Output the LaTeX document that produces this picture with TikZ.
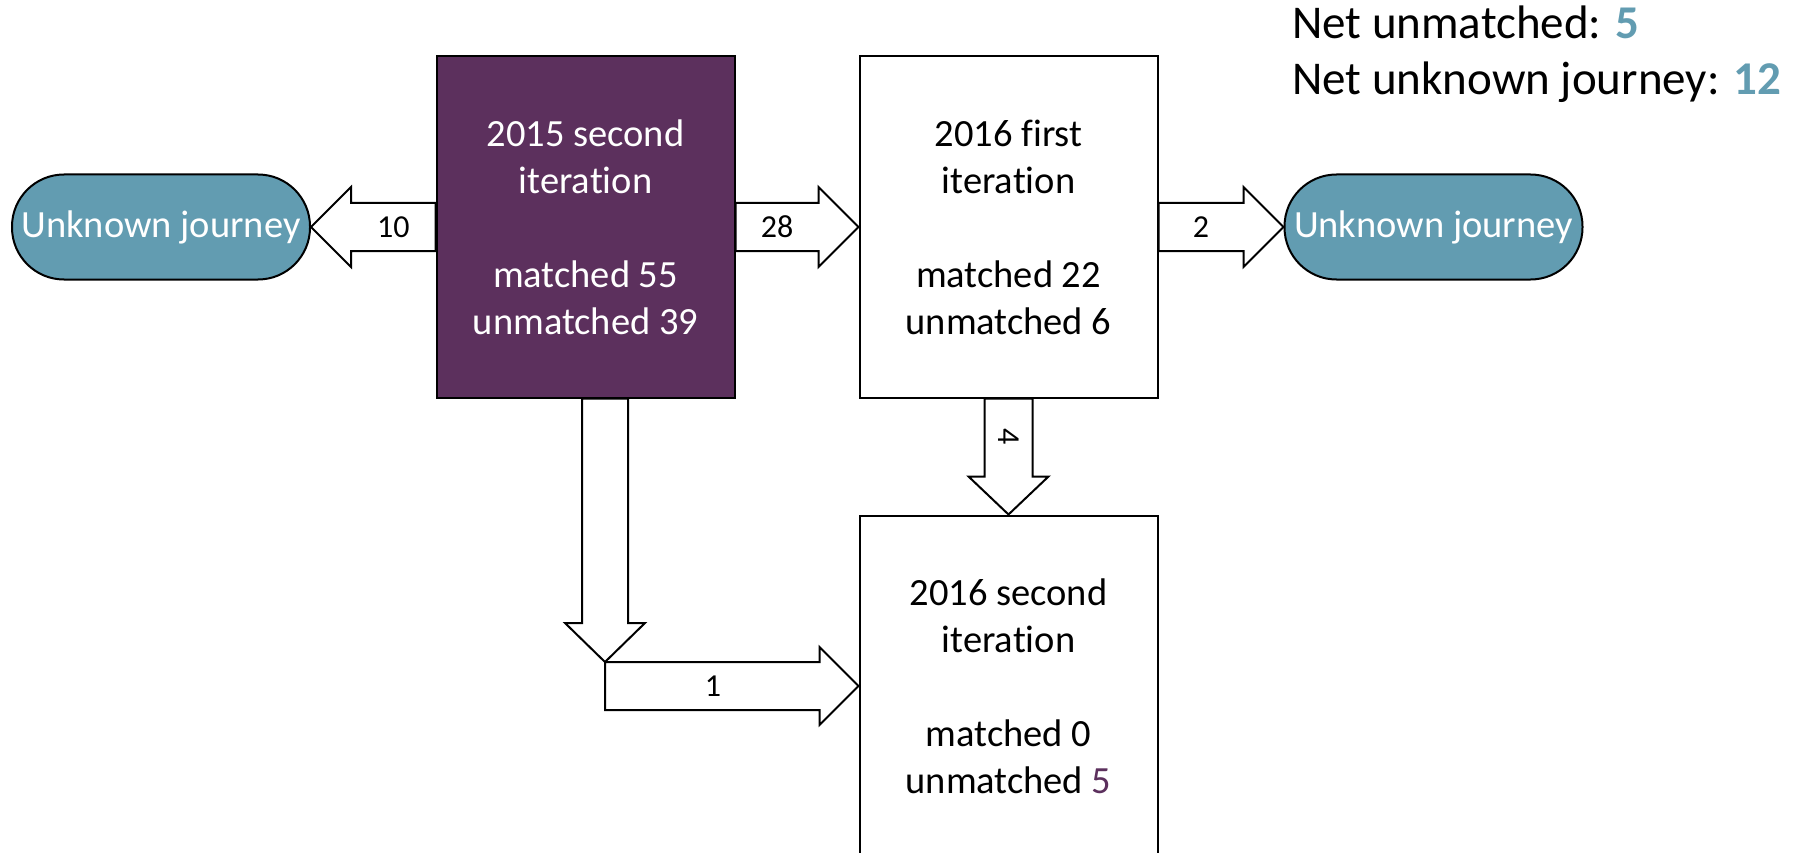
\documentclass[tikz,border=0pt]{standalone}
\usepackage{fontspec}
\setmainfont{Carlito}[Ligatures={NoCommon,NoRare,NoContextual}]
\usetikzlibrary{calc}
\definecolor{teal1}{HTML}{629CB1}
\definecolor{purp}{HTML}{5C305D}
\begin{document}
\begin{tikzpicture}[x=1pt,y=-1pt,
  box/.style={draw=black,line width=2pt,minimum width=298pt,minimum height=341pt,inner sep=0pt,align=center,font=\fontsize{38.5}{47}\selectfont},
  pill/.style={draw=black,line width=2pt,fill=teal1,rounded corners=52pt,minimum width=298pt,minimum height=105pt,inner sep=0pt,text=white,font=\fontsize{38.5}{47}\selectfont},
  barrow/.style={draw=black,fill=white,line width=2pt,line join=miter},
  num/.style={font=\fontsize{32}{38}\selectfont,inner sep=0pt}]
\useasboundingbox (0,0) rectangle (1793,853);
\node[box,fill=purp,text=white] (p) at (585.5,227) {2015 second\\iteration\\[47pt]matched 55\\unmatched 39};
\node[box,fill=white] (f) at (1008.5,227) {2016 first\\iteration\\[47pt]matched 22\\unmatched 6};
\node[box,fill=white] (s) at (1008.5,686) {2016 second\\iteration\\[47pt]matched 0\\unmatched \textcolor{purp}{5}};
\node[pill] (uj1) at (161,227) {Unknown journey};
\node[pill] (uj2) at (1433.5,227) {Unknown journey};
% arrow 10
\filldraw[barrow] (uj1.east) -- ++(40,-40) -- ++(0,16) -- ($(p.west)+(0,-24)$) -- ($(p.west)+(0,24)$) -- ($(uj1.east)+(40,24)$) -- ++(0,16) -- cycle;
\node[num] (l10) at ($(uj1.east)!0.5!(p.west)+(20,0)$) {10};
% arrow 28
\filldraw[barrow] (f.west) -- ++(-40,-40) -- ++(0,16) -- ($(p.east)+(0,-24)$) -- ($(p.east)+(0,24)$) -- ($(f.west)+(-40,24)$) -- ++(0,16) -- cycle;
\node[num] (l28) at ($(p.east)!0.5!(f.west)+(-20,0)$) {28};
% arrow 2
\filldraw[barrow] (uj2.west) -- ++(-40,-40) -- ++(0,16) -- ($(f.east)+(0,-24)$) -- ($(f.east)+(0,24)$) -- ($(uj2.west)+(-40,24)$) -- ++(0,16) -- cycle;
\node[num] (l2) at ($(f.east)!0.5!(uj2.west)+(-20,0)$) {2};
% arrow 4
\filldraw[barrow] (s.north) -- ++(-40,-38) -- ++(16,0) -- ($(f.south)+(-24,0)$) -- ($(f.south)+(24,0)$) -- ($(s.north)+(24,-38)$) -- ++(16,0) -- cycle;
\node[num,rotate=-90] (l4) at ($(f.south)!0.5!(s.north)+(0,-20)$) {4};
% elbow arrow
\coordinate (j) at ($(s.west -| p.south)+(19.5,-24)$);
\filldraw[barrow] (j) -- ++(-40,-39) -- ++(17,0) -- ($(j |- p.south)+(-23,0)$) -- ($(j |- p.south)+(23,0)$) -- ($(j)+(23,-39)$) -- ++(17,0) -- cycle;
\filldraw[barrow] (s.west) -- ++(-39,-39) -- ++(0,15) -- (j) -- ++(0,48) -- ($(s.west)+(-39,24)$) -- ++(0,15) -- cycle;
\node[num] (l1) at ($(j)+(108,24)$) {1};
% summary
\node[anchor=north west,align=left,inner sep=0pt,font=\fontsize{47}{56}\selectfont] (net) at (1292,6) {Net unmatched: \textcolor{teal1}{\textbf{5}}\\Net unknown journey: \textcolor{teal1}{\textbf{12}}};
\end{tikzpicture}
\end{document}
